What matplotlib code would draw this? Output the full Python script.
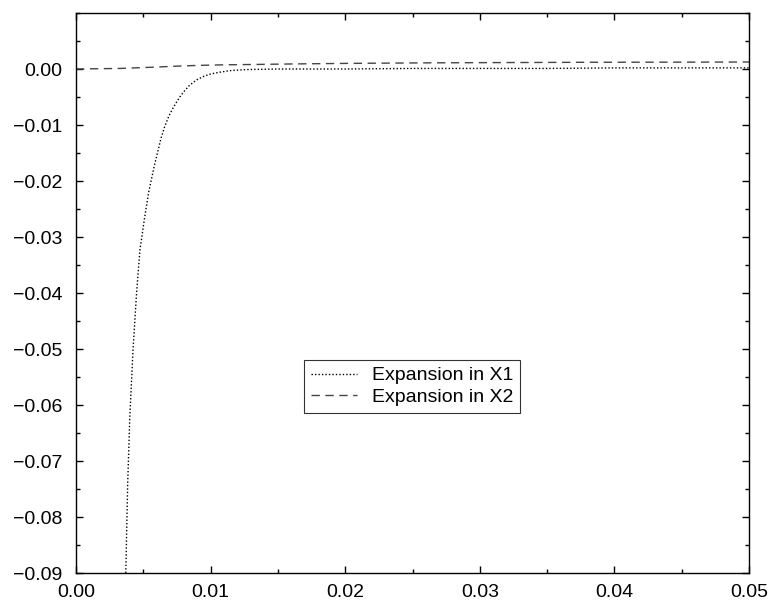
import matplotlib.pyplot as plt
from matplotlib.ticker import MultipleLocator, FuncFormatter

# Values
x1 = [0.0037, 0.00384, 0.0040, 0.00424, 0.0045, 0.00475, 0.0051, 0.0054, 0.0058,
      0.0061, 0.0063, 0.0066, 0.0069, 0.0072, 0.0075, 0.0078, 0.0081, 0.0084,
      0.0087, 0.0090, 0.0095, 0.0100, 0.0106, 0.0114, 0.0127, 0.015, 0.02,
      0.025, 0.03, 0.035, 0.04, 0.045, 0.05]
y1 = [-0.0900, -0.0740, -0.0620, -0.0500, -0.0400, -0.0323, -0.0265, -0.0220, -0.0175,
      -0.0145, -0.0125, -0.0102, -0.0084, -0.0070, -0.0058, -0.0047, -0.0038, -0.0030,
      -0.0024, -0.0019, -0.0013, -0.0009, -0.0006, -0.0003, -0.0001, 0.0000, 0.0000,
      0.0001, 0.0001, 0.0001, 0.0002, 0.0002, 0.0002]

x2 = [0.0, 0.0033, 0.0055, 0.0077, 0.0092, 0.0110, 0.0129, 0.016, 0.020,
      0.0263, 0.032, 0.038, 0.044, 0.05]
y2 = [0.0, 0.0001, 0.0003, 0.00053, 0.00065, 0.00075, 0.0008, 0.0009, 0.001,
      0.0011, 0.00115, 0.0012, 0.00122, 0.00125]

plt.rcParams['font.family'] = ['Liberation Sans', 'DejaVu Sans']


def fmt(v, pos):
    s = '%.2f' % v
    if abs(v) < 1e-9:
        s = '0.00'
    return s.replace('-', '\u2212')


fig = plt.figure(figsize=(7.72, 6.02), dpi=100)
ax = fig.add_axes([76 / 772, 1 - 573 / 602, 673 / 772, 560 / 602])

ax.plot(x1, y1, color='black', linestyle=(0, (1, 1.5)), linewidth=1.0,
        label='Expansion in X1')
ax.plot(x2, y2, color='#444444', linestyle=(0, (6, 4)), linewidth=1.0,
        label='Expansion in X2')

ax.set_xlim(0, 0.05)
ax.xaxis.set_major_locator(MultipleLocator(0.01))
ax.xaxis.set_minor_locator(MultipleLocator(0.005))
ax.set_yticks([-0.09, -0.08, -0.07, -0.06, -0.05, -0.04, -0.03, -0.02, -0.01, 0.0])
ax.yaxis.set_minor_locator(MultipleLocator(0.005))
ax.xaxis.set_major_formatter(FuncFormatter(fmt))
ax.yaxis.set_major_formatter(FuncFormatter(fmt))
ax.set_ylim(-0.09, 0.01)

ax.tick_params(which='both', direction='in', top=True, right=True,
               labelsize=14, width=1.0)
ax.tick_params(which='major', length=5)
ax.tick_params(axis='x', which='major', pad=8)
ax.tick_params(axis='y', which='major', pad=10)
ax.tick_params(which='minor', length=3)
for s in ax.spines.values():
    s.set_linewidth(1.0)

leg = ax.legend(loc='upper left', bbox_to_anchor=((304 - 76) / 673, (573 - 360) / 560),
                fontsize=14, frameon=True, fancybox=False, edgecolor='black',
                borderpad=0.35, labelspacing=0.2, handlelength=2.4,
                handletextpad=0.75, borderaxespad=0)
leg.get_frame().set_linewidth(0.8)

plt.savefig('out.png', dpi=100)
